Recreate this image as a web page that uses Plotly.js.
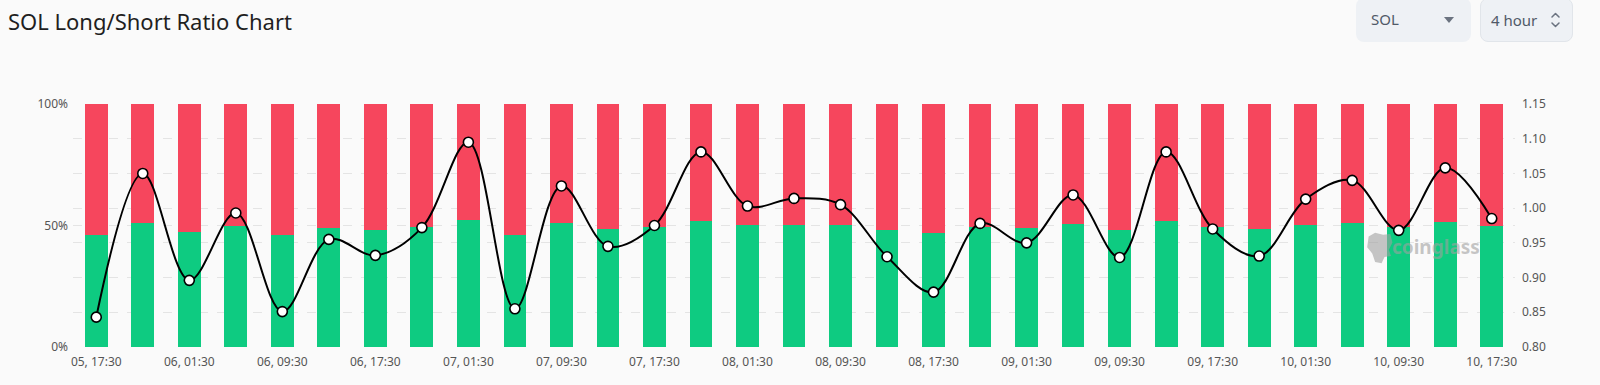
<!DOCTYPE html>
<html>
<head>
<meta charset="utf-8">
<script src="https://cdn.plot.ly/plotly-3.0.1.min.js"></script>
<style>
  html, body { margin: 0; padding: 0; background: #fafafa; }
  #wrap { position: relative; width: 1600px; height: 385px; overflow: hidden; }
  #chart { position: absolute; left: 0; top: 0; width: 1600px; height: 385px; }
  .sel { position: absolute; top: -2px; height: 44px; background: #eef1f5; border-radius: 8px;
         font-family: "Noto Sans", "Open Sans", sans-serif; font-size: 15px; color: #505a68; box-sizing: border-box; }
  .sel span { position: absolute; top: 11px; white-space: nowrap; }
  .sel svg { position: absolute; }
</style>
</head>
<body>
<div id="wrap">
  <div id="chart"></div>
  <div class="sel" style="left:1356px;width:115px;">
    <span style="left:15px;">SOL</span>
    <svg style="left:88px;top:19px;" width="10" height="6" viewBox="0 0 10 6"><path d="M0 0 L10 0 L5 6 Z" fill="#6b7380"/></svg>
  </div>
  <div class="sel" style="left:1480px;width:93px;border:1px solid #e1e5ea;">
    <span style="left:10px;">4 hour</span>
    <svg style="left:70px;top:13px;" width="9" height="16" viewBox="0 0 9 16"><path d="M1 5 L4.5 1.5 L8 5 M1 11 L4.5 14.5 L8 11" fill="none" stroke="#6b7380" stroke-width="1.5" stroke-linecap="round" stroke-linejoin="round"/></svg>
  </div>
</div>
<script>
const times = [
  "05, 17:30","05, 21:30","06, 01:30","06, 05:30","06, 09:30","06, 13:30","06, 17:30","06, 21:30",
  "07, 01:30","07, 05:30","07, 09:30","07, 13:30","07, 17:30","07, 21:30","08, 01:30","08, 05:30",
  "08, 09:30","08, 13:30","08, 17:30","08, 21:30","09, 01:30","09, 05:30","09, 09:30","09, 13:30",
  "09, 17:30","09, 21:30","10, 01:30","10, 05:30","10, 09:30","10, 13:30","10, 17:30"
];
const longPct = [
  45.9, 51.2, 47.2, 49.8, 45.9, 48.8, 48.3, 49.4,
  52.1, 46.1, 50.9, 48.4, 49.4, 51.7, 50.1, 50.2,
  50.2, 48.3, 46.8, 49.5, 48.8, 50.5, 48.3, 51.9,
  49.4, 48.4, 50.3, 50.9, 49.5, 51.3, 49.7
];
const shortPct = longPct.map(v => +(100 - v).toFixed(1));
const ratio = [
  0.843, 1.050, 0.896, 0.993, 0.851, 0.955, 0.932, 0.972,
  1.095, 0.855, 1.032, 0.945, 0.975, 1.081, 1.003, 1.014,
  1.005, 0.930, 0.879, 0.978, 0.950, 1.019, 0.929, 1.081,
  0.970, 0.931, 1.013, 1.040, 0.968, 1.058, 0.985
];
const tickLabels = times.filter((t, i) => i % 2 === 0);
const pctTicks = [0, 50, 100];
const pctLabels = ["0%", "50%", "100%"];

const green = "#0ecb81";
const red = "#f6465d";
const font = "Noto Sans, Open Sans, sans-serif";
const wm = "rgba(160,160,160,0.6)";

const traces = [
  { type: "bar", x: times, y: longPct, name: "Long", marker: { color: green, line: { width: 0 } }, hoverinfo: "x+y" },
  { type: "bar", x: times, y: shortPct, name: "Short", marker: { color: red, line: { width: 0 } }, hoverinfo: "x+y" },
  { type: "scatter", mode: "lines+markers", x: times, y: ratio, yaxis: "y2", name: "Ratio",
    line: { color: "#000000", width: 2, shape: "spline", smoothing: 1 },
    marker: { color: "#ffffff", size: 10, line: { color: "#000000", width: 1.6 } } }
];

const layout = {
  width: 1600, height: 385,
  paper_bgcolor: "#fafafa", plot_bgcolor: "#fafafa",
  margin: { l: 73, r: 85, t: 104, b: 38 },
  showlegend: false,
  barmode: "stack",
  bargap: 0.51,
  font: { family: font, size: 12, color: "#555555" },
  title: { text: "SOL Long/Short Ratio Chart", x: 0.005, xanchor: "left", xref: "container",
           y: 0.943, yanchor: "middle", yref: "container",
           font: { family: font, size: 22, color: "#1f1f1f" } },
  xaxis: { type: "category", tickmode: "array", tickvals: tickLabels, ticktext: tickLabels,
           showgrid: false, zeroline: false, showline: false, ticks: "",
           tickfont: { size: 12, color: "#555555" }, range: [-0.5, times.length - 0.5],
           ticklabelstandoff: 6 },
  yaxis: { range: [0, 100], tickmode: "array", tickvals: pctTicks, ticktext: pctLabels, showgrid: true,
           gridcolor: "#e4e4e4", griddash: "dash", gridwidth: 1, zeroline: false,
           tickfont: { size: 12, color: "#555555" }, ticklabelstandoff: 4 },
  yaxis2: { overlaying: "y", side: "right", range: [0.8, 1.15], dtick: 0.05, tickformat: ".2f",
            showgrid: true, gridcolor: "#e4e4e4", griddash: "dash", gridwidth: 1, zeroline: false,
            tickfont: { size: 12, color: "#555555" }, ticklabelstandoff: 6 },
  shapes: [
    { type: "path", xref: "paper", yref: "paper", layer: "above",
      path: "M 0.8985 0.455 L 0.9030 0.470 L 0.9085 0.462 L 0.9135 0.465 L 0.9150 0.430 L 0.9125 0.400 L 0.9140 0.375 L 0.9095 0.370 L 0.9075 0.345 L 0.9030 0.350 L 0.9010 0.385 L 0.8975 0.410 Z",
      fillcolor: wm, line: { width: 0 } }
  ],
  annotations: [
    { text: "<b>coinglass</b>", xref: "paper", yref: "paper", x: 0.977, y: 0.41, xanchor: "right", yanchor: "middle",
      showarrow: false, font: { family: font, size: 19, color: wm } }
  ]
};

Plotly.newPlot("chart", traces, layout, { displayModeBar: false, staticPlot: true });
</script>
</body>
</html>
